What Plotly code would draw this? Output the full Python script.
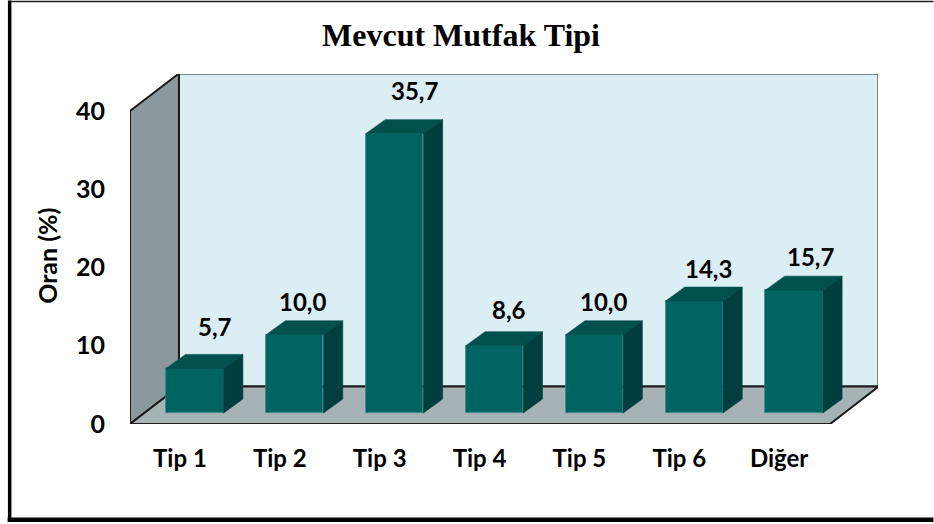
import plotly.graph_objects as go

categories = ["Tip 1", "Tip 2", "Tip 3", "Tip 4", "Tip 5", "Tip 6", "Diğer"]
values = [5.7, 10.0, 35.7, 8.6, 10.0, 14.3, 15.7]
value_labels = ["5,7", "10,0", "35,7", "8,6", "10,0", "14,3", "15,7"]
y_ticks = [0, 10, 20, 30, 40]

W, H = 934, 524
L, R, T, B = 129.5, 878.5, 73.5, 424.0   # plot box in pixels
PX_X = 100.0            # px per category
PX_Y = 313.5 / 40       # px per % unit
DEPTH_X = 49.0 / PX_X   # wall depth, data units
DEPTH_Y = 37.5 / PX_Y
BAR_W = 57.5 / PX_X
BAR_BASE = 11.0 / PX_Y
BAR_DX = 19.3 / PX_X
BAR_DY = 14.0 / PX_Y
LABEL_SHIFT = 15 / PX_X  # category labels sit left of the bars
x0 = (L - 194.5) / PX_X
x1 = (830.5 - 194.5) / PX_X
xs = list(range(len(categories)))

FRONT, TOP, SIDE = "#006461", "#00504d", "#003f3e"


def px(v):
    return (v - L) / (R - L)


def py(v):
    return (B - v) / (B - T)


fig = go.Figure()

# front faces
fig.add_trace(go.Bar(x=xs, y=values, base=BAR_BASE, width=BAR_W,
                     marker=dict(color=FRONT, opacity=1, line=dict(color="#2f8a86", width=0.8)),
                     hoverinfo="skip", showlegend=False))

# top and side faces, derived from the values
for i, v in zip(xs, values):
    xa, xb = i - BAR_W / 2, i + BAR_W / 2
    yb, yt = BAR_BASE, BAR_BASE + v
    fig.add_trace(go.Scatter(
        x=[xa, xb, xb + BAR_DX, xa + BAR_DX, xa],
        y=[yt, yt, yt + BAR_DY, yt + BAR_DY, yt],
        mode="lines", fill="toself", fillcolor=TOP,
        line=dict(color=TOP, width=0.6), hoverinfo="skip", showlegend=False))
    fig.add_trace(go.Scatter(
        x=[xb, xb + BAR_DX, xb + BAR_DX, xb, xb],
        y=[yb, yb + BAR_DY, yt + BAR_DY, yt, yb],
        mode="lines", fill="toself", fillcolor=SIDE,
        line=dict(color=SIDE, width=0.6), hoverinfo="skip", showlegend=False))

line = dict(color="#1c1c1c", width=2)
bx0, bx1 = x0 + DEPTH_X, x1 + DEPTH_X - 0.005
shapes = [
    # outer frame: left, bottom and thin top rules
    dict(type="line", xref="paper", yref="paper", layer="below",
         x0=px(9), x1=px(9), y0=py(522), y1=py(0), line=dict(color="black", width=3.5)),
    dict(type="line", xref="paper", yref="paper", layer="below",
         x0=px(7), x1=px(934), y0=py(520), y1=py(520), line=dict(color="black", width=4.5)),
    dict(type="line", xref="paper", yref="paper", layer="below",
         x0=px(9), x1=px(934), y0=py(1), y1=py(1), line=dict(color="#222222", width=1.5)),
    # back wall
    dict(type="path", layer="below", line=line, fillcolor="#dbeef4",
         path=f"M {bx0} {DEPTH_Y} L {bx1} {DEPTH_Y} L {bx1} {40 + DEPTH_Y} L {bx0} {40 + DEPTH_Y} Z"),
    # left wall
    dict(type="path", layer="below", line=line, fillcolor="#8b999e",
         path=f"M {x0} 0 L {bx0} {DEPTH_Y} L {bx0} {40 + DEPTH_Y} L {x0} 40 Z"),
    # floor
    dict(type="path", layer="below", line=line, fillcolor="#a6b2b6",
         path=f"M {x0} 0 L {x1} 0 L {bx1} {DEPTH_Y} L {bx0} {DEPTH_Y} Z"),
]

font = "Lato"
# data labels: anchored at each bar's top, nudged by hand as in the reference
nudge_x = [20, 8, 20, 14, 9, 14, 16]
nudge_y = [42, 33, 43, 36, 33, 33, 34]
annotations = [
    dict(x=i, y=BAR_BASE + v, text=f"<b>{t}</b>", showarrow=False,
         xshift=nx, yshift=ny, font=dict(family=font, size=24, color="black"))
    for i, v, t, nx, ny in zip(xs, values, value_labels, nudge_x, nudge_y)
]
annotations.append(dict(xref="paper", yref="paper", x=px(47), xanchor="center",
                        y=py(256), yanchor="middle",
                        text="<b>Oran (%)</b>", textangle=-90, showarrow=False,
                        font=dict(family=font, size=25, color="black")))

fig.update_layout(
    template="none",
    width=W, height=H, autosize=False,
    margin=dict(l=L, r=W - R, t=T, b=H - B, pad=0),
    paper_bgcolor="white", plot_bgcolor="rgba(0,0,0,0)",
    title=dict(text="<b>Mevcut Mutfak Tipi</b>", x=461 / W, xanchor="center",
               y=1 - 35 / H, yanchor="middle",
               font=dict(family="Liberation Serif", size=32, color="black")),
    xaxis=dict(range=[x0, x0 + (R - L) / PX_X], tickvals=[i - LABEL_SHIFT for i in xs],
               ticktext=[f"<b>{c}</b>" for c in categories],
               showgrid=False, zeroline=False, showline=False, ticks="outside", ticklen=13,
               tickcolor="rgba(0,0,0,0)", tickfont=dict(family=font, size=24, color="black")),
    yaxis=dict(range=[0, (B - T) / PX_Y], tickvals=y_ticks, ticktext=[f"<b>{t}</b>" for t in y_ticks],
               showgrid=False, zeroline=False, showline=False, ticks="outside", ticklen=19,
               tickcolor="rgba(0,0,0,0)",
               tickfont=dict(family=font, size=25, color="black")),
    shapes=shapes, annotations=annotations, bargap=0,
)

fig.write_html("out.html", post_script="document.body.style.margin='0';",
               config=dict(displayModeBar=False))
